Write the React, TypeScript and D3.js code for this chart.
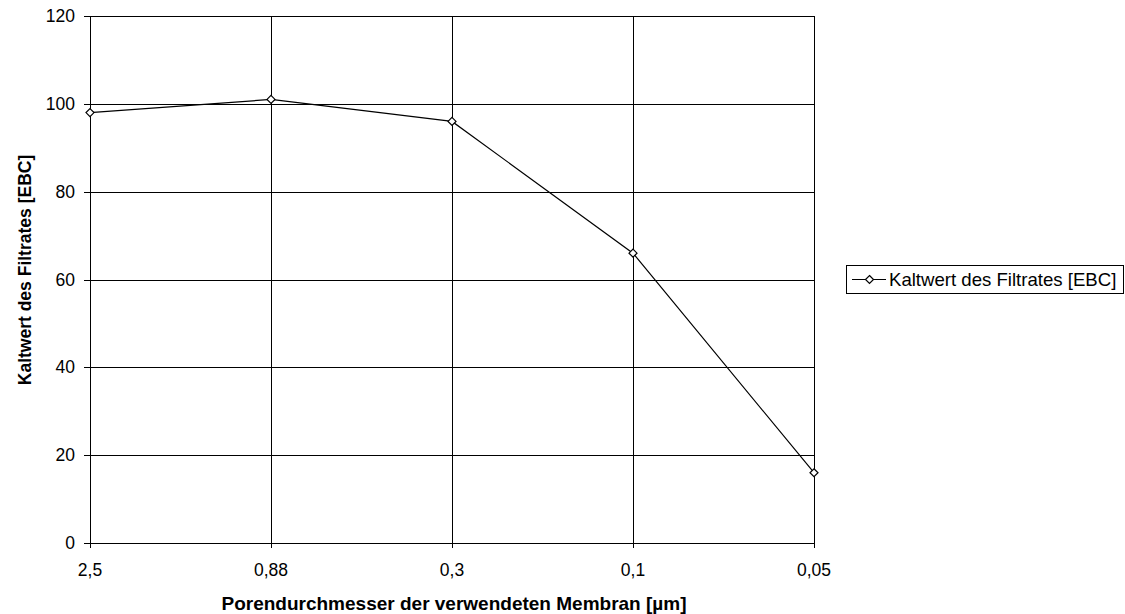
import React from "react";
import * as d3 from "d3";

const categories = ["2,5", "0,88", "0,3", "0,1", "0,05"];
const values = [98, 101, 96, 66, 16];
const yTicks = [0, 20, 40, 60, 80, 100, 120];
const seriesName = "Kaltwert des Filtrates [EBC]";
const xTitle = "Porendurchmesser der verwendeten Membran [µm]";
const yTitle = "Kaltwert des Filtrates [EBC]";

export default function App() {
  const W = 1125, H = 614;
  const left = 90, right = 814, top = 16, bottom = 543;
  const x = d3.scalePoint<string>().domain(categories).range([left, right]);
  const y = d3.scaleLinear().domain([0, 120]).range([bottom, top]);
  const line = d3.line<number>().x((_, i) => x(categories[i])!).y((d) => y(d));
  const font = "Arial, 'Liberation Sans', sans-serif";
  const diamond = (cx: number, cy: number) =>
    `M${cx},${cy - 4}L${cx + 4},${cy}L${cx},${cy + 4}L${cx - 4},${cy}Z`;
  return (
    <svg width={W} height={H} style={{ position: "absolute", left: 0, top: 0 }} fontFamily={font}>
      <rect x={0} y={0} width={W} height={H} fill="#fff" />
      {yTicks.map((t) => (
        <line key={"h" + t} x1={left} x2={right} y1={Math.round(y(t)) + 0.5} y2={Math.round(y(t)) + 0.5} stroke="#000" strokeWidth={1} />
      ))}
      {categories.map((c) => (
        <line key={"v" + c} x1={Math.round(x(c)!) + 0.5} x2={Math.round(x(c)!) + 0.5} y1={top} y2={bottom} stroke="#000" strokeWidth={1} />
      ))}
      <line x1={left + 0.5} x2={left + 0.5} y1={top} y2={bottom} stroke="#000" />
      <line x1={left} x2={right} y1={bottom + 0.5} y2={bottom + 0.5} stroke="#000" />
      {yTicks.map((t) => (
        <g key={"yt" + t}>
          <line x1={left - 6} x2={left} y1={Math.round(y(t)) + 0.5} y2={Math.round(y(t)) + 0.5} stroke="#000" />
          <text x={75} y={y(t)} dy="0.35em" textAnchor="end" fontSize={17.5}>{t}</text>
        </g>
      ))}
      {categories.map((c) => (
        <g key={"xt" + c}>
          <line x1={Math.round(x(c)!) + 0.5} x2={Math.round(x(c)!) + 0.5} y1={bottom} y2={bottom + 5} stroke="#000" />
          <text x={x(c)!} y={576} textAnchor="middle" fontSize={17.5}>{c}</text>
        </g>
      ))}
      <path d={line(values)!} fill="none" stroke="#000" strokeWidth={1.2} />
      {values.map((v, i) => (
        <path key={"m" + i} d={diamond(x(categories[i])!, y(v))} fill="#fff" stroke="#000" strokeWidth={1.2} />
      ))}
      <text x={454} y={610} textAnchor="middle" fontSize={19} fontWeight="bold">{xTitle}</text>
      <text transform={`translate(31,270) rotate(-90)`} textAnchor="middle" fontSize={17.5} fontWeight="bold">{yTitle}</text>
      <rect x={846.5} y={265.5} width={277} height={28} fill="#fff" stroke="#000" />
      <line x1={852} x2={886} y1={279.5} y2={279.5} stroke="#000" strokeWidth={1.2} />
      <path d={diamond(869.5, 279.5)} fill="#fff" stroke="#000" strokeWidth={1.2} />
      <text x={889} y={279.5} dy="0.35em" fontSize={18.6}>{seriesName}</text>
    </svg>
  );
}
